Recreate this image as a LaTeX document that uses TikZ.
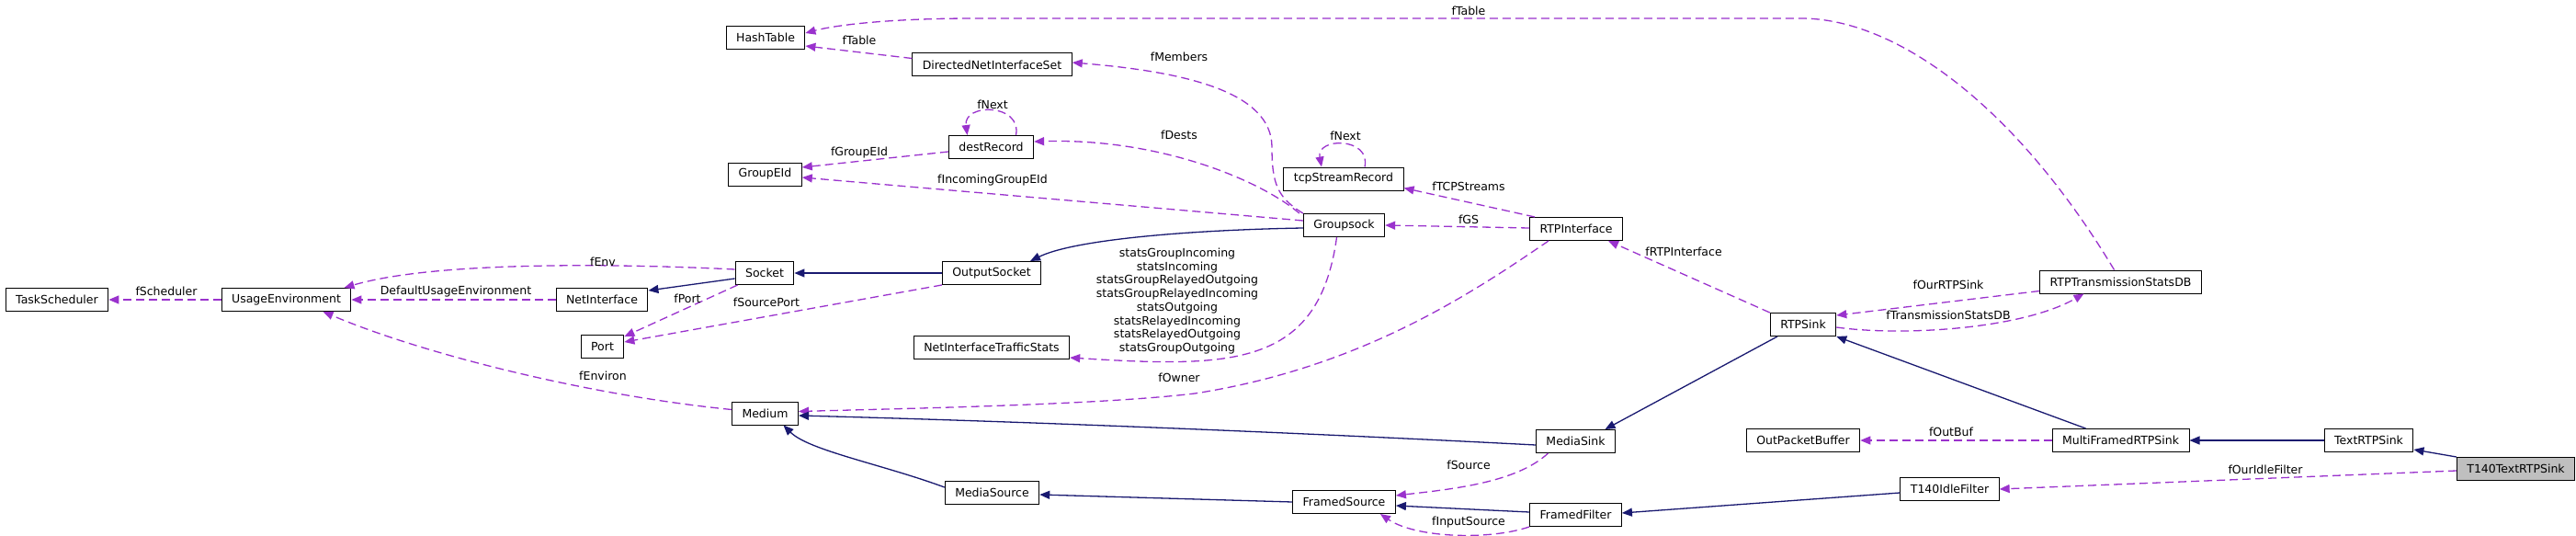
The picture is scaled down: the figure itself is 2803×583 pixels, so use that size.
\documentclass[tikz,border=0pt]{standalone}
\usepackage{fontspec}
\setmainfont{DejaVu Sans}
\usetikzlibrary{arrows.meta}
\definecolor{usecol}{HTML}{9A32CD}
\definecolor{inhcol}{HTML}{191970}
\definecolor{rootfill}{HTML}{BFBFBF}
\tikzset{
  cbox/.style={draw=black, fill=white, line width=1pt, minimum height=25pt, inner xsep=11pt, inner ysep=0pt,
    font=\fontsize{12.5}{14.7}\selectfont, text=black},
  rootbox/.style={cbox, fill=rootfill},
  lbl/.style={font=\fontsize{12.5}{14.7}\selectfont, inner sep=0pt, align=center, text=black},
  member/.style={-{Triangle[length=11pt,width=9pt]}, draw=usecol, line width=1.3pt, dash pattern=on 9pt off 5pt},
  derive/.style={-{Triangle[length=11pt,width=9pt]}, draw=inhcol, line width=1.3pt}
}
\begin{document}
\begin{tikzpicture}[x=1pt, y=-1pt]
\useasboundingbox (0,0) rectangle (2803,583);
\node[cbox] (hashtbl) at (833,41) {HashTable};
\node[cbox] (dnis) at (1079.5,70.5) {DirectedNetInterfaceSet};
\node[cbox] (destrec) at (1078.5,160) {destRecord};
\node[cbox] (groupeid) at (832.5,189.5) {GroupEId};
\node[cbox] (tcprec) at (1462,194.5) {tcpStreamRecord};
\node[cbox] (gsock) at (1462.5,245) {Groupsock};
\node[cbox] (rtpif) at (1715,249) {RTPInterface};
\node[cbox] (tasksch) at (62,326) {TaskScheduler};
\node[cbox] (usageenv) at (311.5,326) {UsageEnvironment};
\node[cbox] (netif) at (655,326) {NetInterface};
\node[cbox] (socket) at (832,297) {Socket};
\node[cbox] (outsock) at (1079,297) {OutputSocket};
\node[cbox] (port) at (655.5,377) {Port};
\node[cbox] (nitstats) at (1079,378) {NetInterfaceTrafficStats};
\node[cbox] (medium) at (832.5,449.5) {Medium};
\node[cbox] (mediasrc) at (1079.5,536) {MediaSource};
\node[cbox] (tsdb) at (2307.5,306.5) {RTPTransmissionStatsDB};
\node[cbox] (rtpsink) at (1962,353) {RTPSink};
\node[cbox] (mediasink) at (1714.5,480) {MediaSink};
\node[cbox] (outbuf) at (1962,479) {OutPacketBuffer};
\node[cbox] (mfsink) at (2307.5,479) {MultiFramedRTPSink};
\node[cbox] (textsink) at (2577.5,479) {TextRTPSink};
\node[rootbox] (t140sink) at (2737.5,510) {T140TextRTPSink};
\node[cbox] (idlefilt) at (2121.5,532) {T140IdleFilter};
\node[cbox] (framedsrc) at (1462.5,546) {FramedSource};
\node[cbox] (framedfilt) at (1714.5,560) {FramedFilter};

\draw[member] ([xshift=-7pt]tsdb.north) .. controls (2190,110) and (2060,20) .. (1960,20) -- (1060,20)
  .. controls (970,20) and (910,27) .. ([yshift=5pt]hashtbl.east);
\draw[member] ([yshift=7pt]dnis.west) -- ([yshift=-9pt]hashtbl.east);
\draw[member] (gsock.north west) .. controls (1390,215) and (1384,200) .. (1384,160)
  .. controls (1384,100) and (1290,78) .. ([yshift=2.5pt]dnis.east);
\draw[member] ([xshift=-4pt]gsock.north west) .. controls (1370,195) and (1260,150) .. ([yshift=6pt]destrec.east);
\draw[member] ([yshift=5pt]gsock.west) -- ([yshift=-3.5pt]groupeid.east);
\draw[member] ([yshift=-5pt]destrec.west) -- ([yshift=7.5pt]groupeid.east);
\draw[member] ([xshift=27pt]destrec.north) .. controls (1112,112) and (1048,112) .. ([xshift=-26pt]destrec.north);
\draw[member] ([xshift=23pt]tcprec.north) .. controls (1492,149) and (1432,149) .. ([xshift=-24pt]tcprec.north);
\draw[member] ([xshift=6pt]rtpif.north west) -- ([yshift=3pt]tcprec.south east);
\draw[member] ([yshift=1pt]rtpif.west) -- (gsock.east);
\draw[member] (rtpsink.north west) -- ([xshift=35pt]rtpif.south);
\draw[member] ([yshift=-10pt]tsdb.west) -- ([yshift=10pt]rtpsink.east);
\draw[member] ([yshift=-3pt]rtpsink.east) .. controls (2070,366) and (2200,358) .. ([xshift=-40pt]tsdb.south);
\draw[member] ([xshift=-8pt]gsock.south) .. controls (1435,400) and (1340,400) .. ([yshift=2pt]nitstats.south east);
\draw[member] ([xshift=-30pt]rtpif.south) .. controls (1600,320) and (1480,400) .. (1300,428)
  .. controls (1200,440) and (1000,444) .. ([yshift=2pt]medium.east);
\draw[member] ([yshift=4pt]medium.west) .. controls (640,430) and (460,385) .. ([xshift=40pt]usageenv.south);
\draw[member] ([yshift=4pt]socket.west) .. controls (700,288) and (480,282) .. ([xshift=63pt]usageenv.north);
\draw[member] (usageenv.west) -- (tasksch.east);
\draw[member] (netif.west) -- (usageenv.east);
\draw[member] ([xshift=3pt]socket.south west) -- ([yshift=-2pt]port.north east);
\draw[member] (outsock.south west) -- ([yshift=5pt]port.east);
\draw[member] ([xshift=-30pt]mediasink.south) .. controls (1650,525) and (1580,532) .. ([yshift=7pt]framedsrc.east);
\draw[member] (framedfilt.south west) .. controls (1620,588) and (1540,585) .. ([xshift=-17pt]framedsrc.south east);
\draw[member] (mfsink.west) -- (outbuf.east);
\draw[member] ([yshift=-2pt]t140sink.west) -- (idlefilt.east);

\draw[derive] (outsock.west) -- (socket.east);
\draw[derive] ([yshift=-6pt]socket.west) -- ([yshift=10pt]netif.east);
\draw[derive] ([yshift=-3pt]gsock.west) .. controls (1300,250) and (1170,260) .. ([xshift=42pt]outsock.north);
\draw[derive] ([yshift=-4pt]mediasink.west) .. controls (1400,470) and (1100,458) .. ([yshift=-2.5pt]medium.east);
\draw[derive] ([yshift=6pt]mediasrc.west) .. controls (960,505) and (880,490) .. ([xshift=20pt]medium.south);
\draw[derive] (framedsrc.west) -- ([yshift=-2pt]mediasrc.east);
\draw[derive] ([yshift=3pt]framedfilt.west) -- ([yshift=-4pt]framedsrc.east);
\draw[derive] ([yshift=-4pt]idlefilt.west) -- ([yshift=2pt]framedfilt.east);
\draw[derive] ([xshift=-28pt]rtpsink.south) -- ([xshift=32pt]mediasink.north);
\draw[derive] ([xshift=-38pt]mfsink.north) -- (rtpsink.south east);
\draw[derive] (textsink.west) -- (mfsink.east);
\draw[derive] (t140sink.north west) -- ([yshift=3pt]textsink.south east);

\node[lbl] (lTableTop) at (1598,12) {fTable};
\node[lbl] (lTable) at (935,44) {fTable};
\node[lbl] (lMembers) at (1283,62) {fMembers};
\node[lbl] (lNextDest) at (1080,114) {fNext};
\node[lbl] (lDests) at (1283,147) {fDests};
\node[lbl] (lNextTcp) at (1464,148) {fNext};
\node[lbl] (lGroupEId) at (935,166) {fGroupEId};
\node[lbl] (lIncoming) at (1080,196) {fIncomingGroupEId};
\node[lbl] (lTCPStreams) at (1598,203) {fTCPStreams};
\node[lbl] (lGS) at (1598,239) {fGS};
\node[lbl] (lRTPIf) at (1832,274) {fRTPInterface};
\node[lbl] (lEnv) at (656,285) {fEnv};
\node[lbl] (lScheduler) at (181,317) {fScheduler};
\node[lbl] (lDefEnv) at (496,317) {DefaultUsageEnvironment};
\node[lbl] (lPort) at (748,325) {fPort};
\node[lbl] (lSrcPort) at (834,329) {fSourcePort};
\node[lbl] (lOurSink) at (2120,310) {fOurRTPSink};
\node[lbl] (lTxStats) at (2120,343) {fTransmissionStatsDB};
\node[lbl] (lStats) at (1281,327.5) {statsGroupIncoming\\statsIncoming\\statsGroupRelayedOutgoing\\statsGroupRelayedIncoming\\statsOutgoing\\statsRelayedIncoming\\statsRelayedOutgoing\\statsGroupOutgoing};
\node[lbl] (lEnviron) at (656,409) {fEnviron};
\node[lbl] (lOwner) at (1283,411) {fOwner};
\node[lbl] (lOutBuf) at (2123,470) {fOutBuf};
\node[lbl] (lSource) at (1598,506) {fSource};
\node[lbl] (lIdle) at (2465,511) {fOurIdleFilter};
\node[lbl] (lInput) at (1598,568) {fInputSource};
\end{tikzpicture}
\end{document}
